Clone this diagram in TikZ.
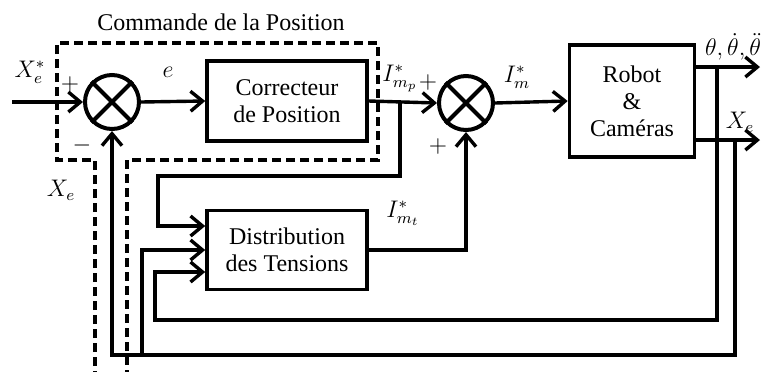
\documentclass[tikz,border=0pt]{standalone}
\usepackage{fontspec}
\setmainfont{Liberation Serif}
\usetikzlibrary{arrows.meta,shadows}

\tikzset{
  blk/.style={draw,line width=1.8pt,align=center},
  sumnode/.style={draw,circle,line width=2pt,minimum size=27pt,inner sep=0pt,fill=white,
    drop shadow={opacity=0.25,shadow xshift=0.6pt,shadow yshift=-0.6pt}},
  sig/.style={line width=1.7pt,-{Straight Barb[length=6pt,width=10pt]}},
  zone/.style={line width=1.9pt,dash pattern=on 4.5pt off 2.5pt},
}

\begin{document}
\begin{tikzpicture}[x=0.5pt,y=-0.5pt,font=\fontsize{12}{13.5}\selectfont]
    \useasboundingbox (0,0) rectangle (761,371);

    \node[sumnode] (S1) at (112,102) {};
    \node[sumnode] (S2) at (466,103) {};
    \draw[line width=2pt] (S1.45) -- (S1.225) (S1.135) -- (S1.315);
    \draw[line width=2pt] (S2.45) -- (S2.225) (S2.135) -- (S2.315);

    \node[blk,minimum width=80pt,minimum height=40pt] (CP) at (287,101) {Correcteur\\de Position};
    \node[blk,minimum width=80pt,minimum height=39.5pt] (DT) at (287,250) {Distribution\\des Tensions};
    \node[blk,minimum width=62.5pt,minimum height=56pt] (RC) at (632,101) {Robot\\\&\\Caméras};

    \draw[zone] (95,380) -- (95,160) -- (57,160) -- (57,43) -- (378,43) -- (378,160)
    -- (127,160) -- (127,380);
    \node (ttl) at (221,22) {Commande de la Position};

    \coordinate (in) at (12,102);
    \coordinate (bp1) at (400,102);
    \coordinate (c1) at (158,176);
    \coordinate (b1) at (717,67);
    \coordinate (b2) at (735,140);
    \coordinate (out1) at (760,67);
    \coordinate (out2) at (760,140);
    \coordinate (f1) at (155,320);
    \coordinate (f2) at (112,355);
    \coordinate (f3) at (142,355);

    \draw[sig] (in) -- (S1.west);
    \draw[sig] (S1.east) -- (CP.west);
    \draw[sig] (CP.east) -- (S2.west);
    \draw[sig] (S2.east) -- (RC.west);
    \draw[sig] (bp1) |- (c1) |- ([yshift=12pt]DT.west);
    \draw[sig] (DT.east) -| (S2.south);
    \draw[sig] ([yshift=17pt]RC.east) -- (out1);
    \draw[sig] ([yshift=-19.5pt]RC.east) -- (out2);
    \draw[sig] (b1) |- (f1) |- ([yshift=-11pt]DT.west);
    \draw[sig] (b2) |- (f2) -- (S1.south);
    \draw[sig] (f3) |- (DT.west);

    \node (lXr) at (30,72) {$X_e^*$};
    \node (lp1) at (70,84) {$+$};
    \node (lm1) at (82,145) {$-$};
    \node (lXe) at (61,190) {$X_e$};
    \node (le) at (168,72) {$e$};
    \node (lImp) at (400,78) {$I^*_{m_p}$};
    \node (lp2) at (428,82) {$+$};
    \node (lp3) at (438,146) {$+$};
    \node (lIm) at (517,77) {$I^*_m$};
    \node (lImt) at (403,213) {$I^*_{m_t}$};
    \node[anchor=west] (lth) at (698,47) {$\theta,\dot\theta,\ddot\theta$};
    \node (lXo) at (740,122) {$X_e$};
\end{tikzpicture}
\end{document}
